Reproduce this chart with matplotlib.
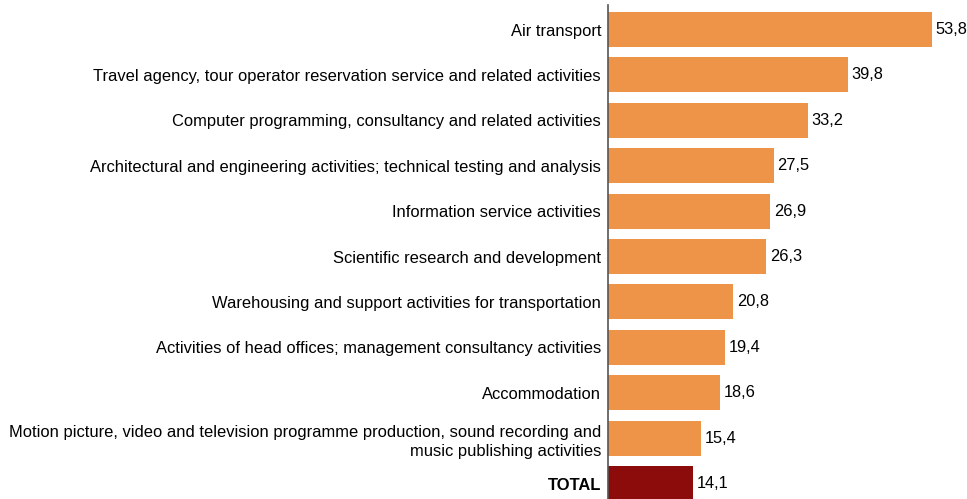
import matplotlib.pyplot as plt

# Data
categories = [
    "Air transport",
    "Travel agency, tour operator reservation service and related activities",
    "Computer programming, consultancy and related activities",
    "Architectural and engineering activities; technical testing and analysis",
    "Information service activities",
    "Scientific research and development",
    "Warehousing and support activities for transportation",
    "Activities of head offices; management consultancy activities",
    "Accommodation",
    "Motion picture, video and television programme production, sound recording and\nmusic publishing activities",
    "TOTAL",
]
values = [53.8, 39.8, 33.2, 27.5, 26.9, 26.3, 20.8, 19.4, 18.6, 15.4, 14.1]

plt.rcParams['font.family'] = ['Liberation Sans', 'DejaVu Sans']

fig = plt.figure(figsize=(9.67, 4.99), dpi=100)
ax = fig.add_axes([608 / 967, 0, 1 - 608 / 967, 1 - 5 / 499])

colors = ['#ED9448'] * (len(values) - 1) + ['#8C0B0B']
ypos = list(range(len(values)))
ax.barh(ypos, values, height=0.77, color=colors)

for y, v in zip(ypos, values):
    ax.text(v + 0.6, y, f"{v:.1f}".replace('.', ','), va='center', ha='left', fontsize=11.8)

ax.set_yticks(ypos)
ax.set_yticklabels(categories, fontsize=11.9, ha='right', multialignment='right', linespacing=1.4)
for lbl in ax.get_yticklabels():
    if lbl.get_text() == "TOTAL":
        lbl.set_fontweight('bold')
ax.tick_params(axis='y', length=0, pad=5)
ax.set_xticks([])
ax.set_xlim(0, 59.6)
ax.set_ylim(10.34, -0.54)

for s in ['top', 'right', 'bottom']:
    ax.spines[s].set_visible(False)
ax.spines['left'].set_color('#555555')
ax.spines['left'].set_linewidth(1.2)

fig.savefig("out.png", dpi=100)
